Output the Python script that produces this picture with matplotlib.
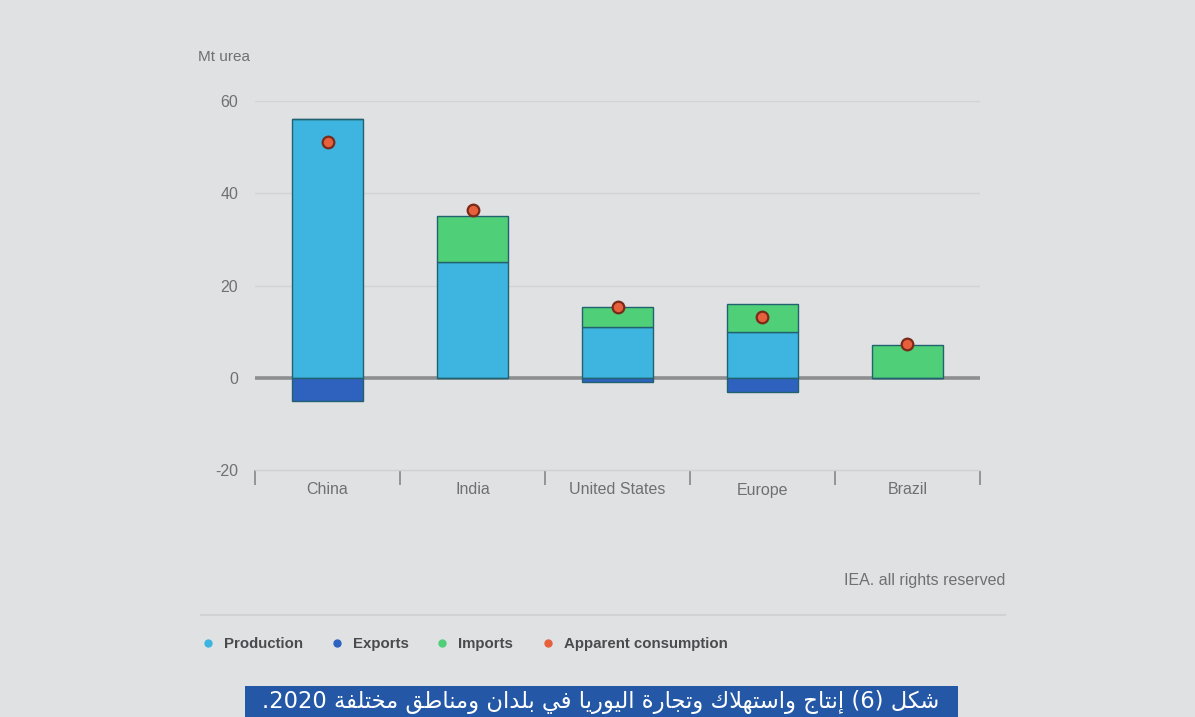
import matplotlib
matplotlib.use("Agg")
import matplotlib.pyplot as plt
import numpy as np

# ---------------- data ----------------
categories = ["China", "India", "United States", "Europe", "Brazil"]
production = [56, 25, 11, 10, 0]
exports = [-5, 0, -1, -3, 0]
imports = [0, 10, 4.3, 6, 7.2]
apparent_consumption = [51.2, 36.3, 15.3, 13.1, 7.3]
yticks = [-20, 0, 20, 40, 60]
legend_labels = ["Production", "Exports", "Imports", "Apparent consumption"]
unit_label = "Mt urea"
credit = "IEA. all rights reserved"
caption = "شكل (6) إنتاج واستهلاك وتجارة اليوريا في بلدان ومناطق مختلفة 2020."

# ---------------- minimal Arabic shaping ----------------
FORMS = {  # isolated, final, initial, medial
    'ا': (0xFE8D, 0xFE8E, None, None),
    'إ': (0xFE87, 0xFE88, None, None),
    'ب': (0xFE8F, 0xFE90, 0xFE91, 0xFE92),
    'ة': (0xFE93, 0xFE94, None, None),
    'ت': (0xFE95, 0xFE96, 0xFE97, 0xFE98),
    'ج': (0xFE9D, 0xFE9E, 0xFE9F, 0xFEA0),
    'خ': (0xFEA5, 0xFEA6, 0xFEA7, 0xFEA8),
    'د': (0xFEA9, 0xFEAA, None, None),
    'ر': (0xFEAD, 0xFEAE, None, None),
    'س': (0xFEB1, 0xFEB2, 0xFEB3, 0xFEB4),
    'ش': (0xFEB5, 0xFEB6, 0xFEB7, 0xFEB8),
    'ط': (0xFEC1, 0xFEC2, 0xFEC3, 0xFEC4),
    'ف': (0xFED1, 0xFED2, 0xFED3, 0xFED4),
    'ق': (0xFED5, 0xFED6, 0xFED7, 0xFED8),
    'ك': (0xFED9, 0xFEDA, 0xFEDB, 0xFEDC),
    'ل': (0xFEDD, 0xFEDE, 0xFEDF, 0xFEE0),
    'م': (0xFEE1, 0xFEE2, 0xFEE3, 0xFEE4),
    'ن': (0xFEE5, 0xFEE6, 0xFEE7, 0xFEE8),
    'ه': (0xFEE9, 0xFEEA, 0xFEEB, 0xFEEC),
    'و': (0xFEED, 0xFEEE, None, None),
    'ي': (0xFEF1, 0xFEF2, 0xFEF3, 0xFEF4),
}
LAM_ALEF = {'ا': (0xFEFB, 0xFEFC), 'إ': (0xFEF9, 0xFEFA)}


def dual(ch):
    return ch in FORMS and FORMS[ch][2] is not None


def shape_word(w):
    units = []
    i = 0
    while i < len(w):
        if w[i] == 'ل' and i + 1 < len(w) and w[i + 1] in LAM_ALEF:
            units.append(('LA', w[i + 1]))
            i += 2
        else:
            units.append(('C', w[i]))
            i += 1
    out = []
    for k, (kind, ch) in enumerate(units):
        prev = units[k - 1] if k > 0 else None
        nxt = units[k + 1] if k + 1 < len(units) else None
        jp = prev is not None and prev[0] == 'C' and dual(prev[1])
        if kind == 'LA':
            iso, fin = LAM_ALEF[ch]
            out.append(chr(fin if jp else iso))
            continue
        if ch not in FORMS:
            out.append(ch)
            continue
        jn = dual(ch) and nxt is not None and (nxt[0] == 'LA' or nxt[1] in FORMS)
        iso, fin, ini, med = FORMS[ch]
        if jp and jn:
            code = med
        elif jp:
            code = fin
        elif jn:
            code = ini
        else:
            code = iso
        out.append(chr(code))
    return ''.join(out)


def visual_rtl(text):
    trail = ''
    if text.endswith('.'):
        trail = '.'
        text = text[:-1]
    tokens = text.split(' ')
    vis = []
    for t in reversed(tokens):
        if any(c in FORMS for c in t):
            vis.append(shape_word(t)[::-1])
        else:
            vis.append(t)
    return trail + ' '.join(vis)


# ---------------- styling ----------------
BG = "#e0e1e3"
C_PROD = "#3db5e0"
C_EXP = "#2f62bf"
C_IMP = "#4fcf78"
C_CONS = "#e6603c"
EDGE = "#22616f"
TXT = "#6f7073"

plt.rcParams['font.family'] = ['Liberation Sans', 'DejaVu Sans']

fig = plt.figure(figsize=(11.95, 7.17), dpi=100, facecolor=BG)
ax = fig.add_axes([255 / 1195, 1 - 470 / 717, 725 / 1195, (470 - 101) / 717])
ax.set_facecolor(BG)

x = np.arange(len(categories))
w = 0.49
ax.bar(x, production, width=w, color=C_PROD, edgecolor=EDGE, linewidth=1.0, zorder=3)
ax.bar(x, imports, width=w, bottom=production, color=C_IMP, edgecolor=EDGE, linewidth=1.0, zorder=3)
ax.bar(x, exports, width=w, color=C_EXP, edgecolor=EDGE, linewidth=1.0, zorder=3)
ax.scatter(x, apparent_consumption, s=70, color=C_CONS, edgecolor="#7a2a1a", linewidth=1.6, zorder=5)

ax.set_xlim(-0.5, len(categories) - 0.5)
ax.set_ylim(-20, 60)
ax.set_yticks(yticks)
ax.set_yticklabels([str(v) for v in yticks], color=TXT, fontsize=11.5)
ax.tick_params(axis='y', length=0, pad=12)
for v in yticks:
    if v == 0:
        ax.axhline(v, color="#8d8e90", linewidth=2.6, zorder=2)
    elif v != -20:
        ax.axhline(v, color="#d2d3d5", linewidth=1.0, zorder=1)

ax.set_xticks(x)
ax.set_xticklabels(categories, color=TXT, fontsize=11.5)
ax.set_xticks(np.arange(-0.5, len(categories), 1.0), minor=True)
ax.tick_params(axis='x', which='major', length=0, pad=9)
ax.tick_params(axis='x', which='minor', length=11, width=1.3, color="#8d8e90", direction='out')

for s in ['top', 'right', 'left']:
    ax.spines[s].set_visible(False)
ax.spines['bottom'].set_color("#cfd0d2")
ax.spines['bottom'].set_linewidth(1.0)

# unit label
fig.text(198 / 1195, 1 - 57 / 717, unit_label, color=TXT, fontsize=11, ha='left', va='center')
# credit
fig.text(1005 / 1195, 1 - 580 / 717, credit, color=TXT, fontsize=11.5, ha='right', va='center')
# separator line
fig.add_artist(plt.Line2D([201 / 1195, 1005 / 1195], [1 - 615 / 717] * 2, color="#d0d1d3", linewidth=1.5))

# legend
leg_x = [208, 337, 442, 548]
leg_colors = [C_PROD, C_EXP, C_IMP, C_CONS]
for lx, lc, lt in zip(leg_x, leg_colors, legend_labels):
    fig.add_artist(plt.Line2D([lx / 1195], [1 - 643 / 717], marker='o', markersize=5,
                              color=lc, linestyle='none'))
    fig.text((lx + 16) / 1195, 1 - 644 / 717, lt, color="#4a4b4e", fontsize=10.8,
             ha='left', va='center', fontweight='bold')

# caption box
fig.patches.append(plt.Rectangle((245 / 1195, 0), (958 - 245) / 1195, (717 - 686) / 717,
                                 transform=fig.transFigure, facecolor="#2458a6", edgecolor='none'))
fig.text(601 / 1195, 1 - 702 / 717, visual_rtl(caption), color='white', fontsize=16.3,
         ha='center', va='center', family=['DejaVu Sans'])

fig.savefig("out.png", dpi=100, facecolor=BG)
